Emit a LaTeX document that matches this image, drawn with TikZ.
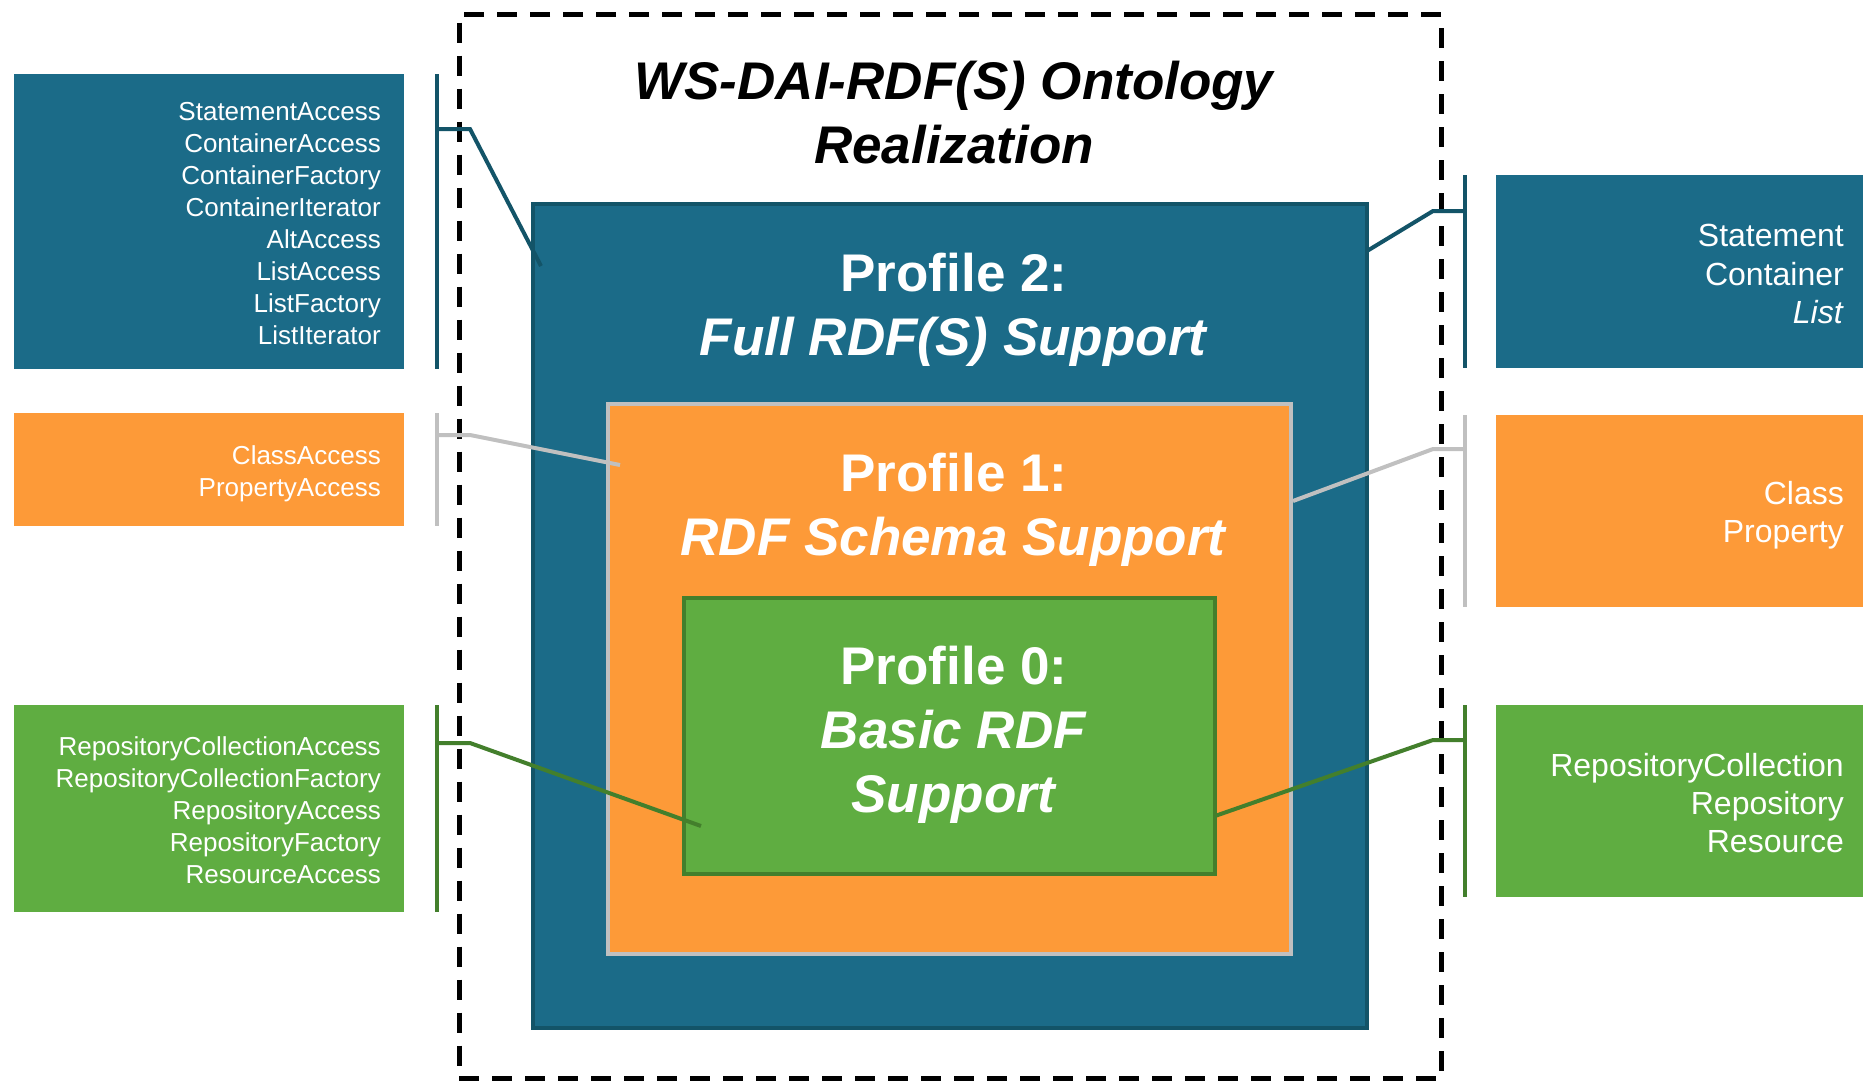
\documentclass[tikz,border=0pt]{standalone}
\usepackage{fontspec}
\setmainfont{Liberation Sans}
\definecolor{pblue}{HTML}{1B6B88}
\definecolor{pblueline}{HTML}{135468}
\definecolor{porange}{HTML}{FD9A38}
\definecolor{pgray}{HTML}{C0C0C0}
\definecolor{pgreen}{HTML}{5FAD41}
\definecolor{pgreenline}{HTML}{437F2C}
\begin{document}
\begin{tikzpicture}[x=1pt,y=-1pt,
  box/.style={rectangle, inner sep=0pt, outer sep=0pt},
  sidebox/.style={box, minimum width=390pt},
  sidetext/.style={text=white, align=right, inner sep=0pt, anchor=east},
  smallside/.style={sidetext, font=\fontsize{26}{32}\selectfont},
  bigside/.style={sidetext, font=\fontsize{32}{38.4}\selectfont},
  proftext/.style={text=white, align=center, inner sep=0pt, font=\fontsize{53}{64}\selectfont\bfseries},
  conn/.style={line width=4pt},
  bracket/.style={line width=4pt}
]
\useasboundingbox (0,0) rectangle (1863,1080);
\fill[white] (0,0) rectangle (1863,1080);

% dashed frame
\node[box, draw=black, line width=5pt, dash pattern=on 20pt off 13pt,
  minimum width=982pt, minimum height=1064pt] (frame) at (950,546.5) {};
\node[text=black, align=center, inner sep=0pt,
  font=\fontsize{53}{64}\selectfont\bfseries\itshape] (title) at (954,112.5)
  {WS-DAI-RDF(S) Ontology\\Realization};

% nested profiles
\node[box, fill=pblue, draw=pblueline, line width=4pt,
  minimum width=834pt, minimum height=824pt] (p2) at (950,616) {};
\node[box, fill=porange, draw=pgray, line width=4pt,
  minimum width=683pt, minimum height=550pt] (p1) at (949.5,679) {};
\node[box, fill=pgreen, draw=pgreenline, line width=4pt,
  minimum width=531pt, minimum height=276pt] (p0) at (949.5,736) {};
\node[proftext] (p2t) at (954,310) {Profile 2:\\\textit{Full RDF(S) Support}};
\node[proftext] (p1t) at (954,510) {Profile 1:\\\textit{RDF Schema Support}};
\node[proftext] (p0t) at (954,735) {Profile 0:\\\textit{Basic RDF}\\\textit{Support}};

% left boxes
\node[sidebox, fill=pblue, minimum height=295pt] (lb) at (209,221.5) {};
\node[sidebox, fill=porange, minimum height=113pt] (lo) at (209,469.5) {};
\node[sidebox, fill=pgreen, minimum height=207pt] (lg) at (209,808.5) {};
\node[smallside] (lbt) at (381,224) {StatementAccess\\ContainerAccess\\ContainerFactory\\ContainerIterator\\AltAccess\\ListAccess\\ListFactory\\ListIterator};
\node[smallside] (lot) at (381,474) {ClassAccess\\PropertyAccess};
\node[smallside] (lgt) at (381,810) {RepositoryCollectionAccess\\RepositoryCollectionFactory\\RepositoryAccess\\RepositoryFactory\\ResourceAccess};

% right boxes
\node[box, fill=pblue, minimum width=367pt, minimum height=193pt] (rb) at (1679.5,271.5) {};
\node[box, fill=porange, minimum width=367pt, minimum height=192pt] (ro) at (1679.5,511) {};
\node[box, fill=pgreen, minimum width=367pt, minimum height=192pt] (rg) at (1679.5,801) {};
\node[bigside] (rbt) at (1844,274) {Statement\\Container\\\textit{List}};
\node[bigside] (rot) at (1844,515) {Class\\Property};
\node[bigside] (rgt) at (1844,803) {RepositoryCollection\\Repository\\Resource};

% connector coordinates
\coordinate (lbk) at (437,129);
\coordinate (lok) at (437,435);
\coordinate (lgk) at (437,743);
\coordinate (rbk) at (1465,211);
\coordinate (rok) at (1465,449);
\coordinate (rgk) at (1465,740);
\coordinate (lbe) at (541,266);
\coordinate (loe) at (620,465);
\coordinate (lge) at (701,826);
\coordinate (rbe) at (1367,251);
\coordinate (roe) at (1293,501);
\coordinate (rge) at (1215,816);

% brackets
\draw[bracket, pblueline] (lbk |- lb.north) -- (lbk |- lb.south);
\draw[bracket, pgray] (lok |- lo.north) -- (lok |- lo.south);
\draw[bracket, pgreenline] (lgk |- lg.north) -- (lgk |- lg.south);
\draw[bracket, pblueline] (rbk |- rb.north) -- (rbk |- rb.south);
\draw[bracket, pgray] (rok |- ro.north) -- (rok |- ro.south);
\draw[bracket, pgreenline] (rgk |- rg.north) -- (rgk |- rg.south);

% connectors
\draw[conn, pblueline] (lbk) -- ++(33,0) -- (lbe);
\draw[conn, pgray] (lok) -- ++(33,0) -- (loe);
\draw[conn, pgreenline] (lgk) -- ++(33,0) -- (lge);
\draw[conn, pblueline] (rbk) -- ++(-32,0) -- (rbe);
\draw[conn, pgray] (rok) -- ++(-32,0) -- (roe);
\draw[conn, pgreenline] (rgk) -- ++(-32,0) -- (rge);
\end{tikzpicture}
\end{document}
